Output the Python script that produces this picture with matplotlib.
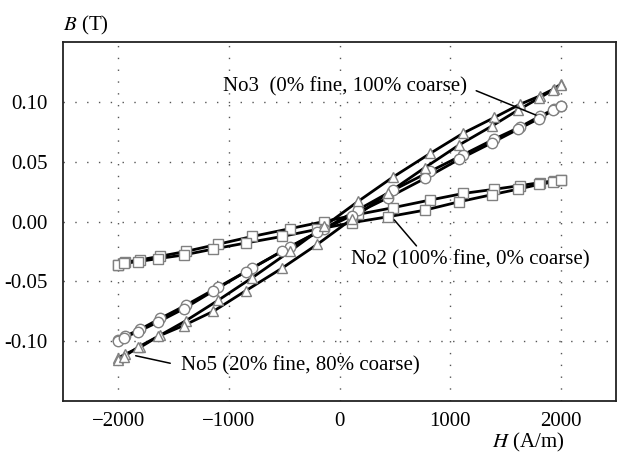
import numpy as np
import matplotlib
matplotlib.use("Agg")
import matplotlib.pyplot as plt

plt.rcParams['font.family'] = ['Liberation Serif', 'DejaVu Serif']
plt.rcParams['mathtext.fontset'] = 'stix'

# field values (A/m) along the two branches of each loop
H_desc = [2000, 1940, 1810, 1630, 1400, 1120, 820, 480, 170, -140,
          -450, -790, -1100, -1390, -1620, -1800, -1940, -2000]
H_asc = [-2000, -1950, -1820, -1640, -1410, -1140, -850, -520, -200, 110,
         440, 770, 1080, 1380, 1610, 1800, 1930, 2000]

# No2 (100% fine), squares
no2_desc = [0.035, 0.034, 0.0325, 0.030, 0.027, 0.0235, 0.018, 0.0115, 0.006,
            0.0, -0.006, -0.0125, -0.019, -0.025, -0.029, -0.032, -0.034, -0.036]
no2_asc = [-0.036, -0.035, -0.0335, -0.031, -0.028, -0.023, -0.018, -0.0125,
           -0.0065, -0.001, 0.004, 0.0095, 0.0165, 0.0225, 0.027, 0.031, 0.033, 0.035]

# No3 (100% coarse), circles
no3_desc = [0.097, 0.094, 0.088, 0.079, 0.069, 0.056, 0.042, 0.026, 0.010,
            -0.006, -0.021, -0.039, -0.055, -0.070, -0.081, -0.090, -0.096, -0.099]
no3_asc = [-0.100, -0.097, -0.092, -0.084, -0.073, -0.058, -0.042, -0.025, -0.009,
           0.005, 0.020, 0.036, 0.052, 0.066, 0.077, 0.086, 0.093, 0.097]

# No5 (20% fine, 80% coarse), triangles
no5_desc = [0.115, 0.111, 0.105, 0.098, 0.087, 0.074, 0.057, 0.037, 0.017,
            -0.004, -0.025, -0.047, -0.066, -0.083, -0.095, -0.105, -0.111, -0.114]
no5_asc = [-0.116, -0.113, -0.105, -0.096, -0.087, -0.075, -0.058, -0.039, -0.019,
           0.002, 0.024, 0.045, 0.064, 0.080, 0.093, 0.103, 0.110, 0.114]

x_ticks = [-2000, -1000, 0, 1000, 2000]
x_labels = ["\u22122000", "\u22121000", "0", "1000", "2000"]
y_ticks = [-0.10, -0.05, 0.0, 0.05, 0.10]
y_labels = ["-0.10", "-0.05", "0.00", "0.05", "0.10"]

fig = plt.figure(figsize=(6.18, 4.53), dpi=100)
ax = fig.add_axes([0.102, 0.115, 0.895, 0.792])

series = [(no2_desc, no2_asc, "s"), (no3_desc, no3_asc, "o"), (no5_desc, no5_asc, "^")]
for desc, asc, mk in series:
    for hh, bb in ((H_desc, desc), (H_asc, asc)):
        ax.plot(hh, bb, color="black", lw=2.0, zorder=2)
        ax.plot(hh, bb, linestyle="none", marker=mk, ms=7.5, mfc="white",
                mec="#808080", mew=1.0, zorder=3)

ax.set_xlim(-2500, 2500)
ax.set_ylim(-0.15, 0.15)
ax.set_xticks(x_ticks)
ax.set_xticklabels(x_labels)
ax.set_yticks(y_ticks)
ax.set_yticklabels(y_labels)
ax.tick_params(length=0, labelsize=15, pad=11)
ax.tick_params(axis="x", pad=8)
ax.grid(True, color="#555555", linestyle=(0, (1, 7.5)), lw=1.0)
for sp in ax.spines.values():
    sp.set_linewidth(1.3)
    sp.set_color("#222222")

fs = 15
ax.annotate("No3  (0% fine, 100% coarse)", xy=(1775, 0.089), xytext=(-1054, 0.1125),
            ha="left", va="center", fontsize=fs,
            arrowprops=dict(arrowstyle="-", color="black", lw=1.1,
                            relpos=(1, 0.5), shrinkA=5, shrinkB=0))
ax.annotate("No2 (100% fine, 0% coarse)", xy=(470, 0.004), xytext=(99, -0.0317),
            ha="left", va="center", fontsize=fs,
            arrowprops=dict(arrowstyle="-", color="black", lw=1.1,
                            relpos=(0.29, 1), shrinkA=1, shrinkB=3))
ax.annotate("No5 (20% fine, 80% coarse)", xy=(-1880, -0.1115), xytext=(-1432, -0.1205),
            ha="left", va="center", fontsize=fs,
            arrowprops=dict(arrowstyle="-", color="black", lw=1.1,
                            relpos=(0, 0.5), shrinkA=6, shrinkB=3))

fig.text(63 / 618, 1 - 25 / 453, "$B$ (T)", fontsize=fs, ha="left", va="center")
fig.text(565 / 618, 1 - 447 / 453, "$H$ (A/m)", fontsize=fs, ha="right", va="baseline")

fig.savefig("out.png", dpi=100)
